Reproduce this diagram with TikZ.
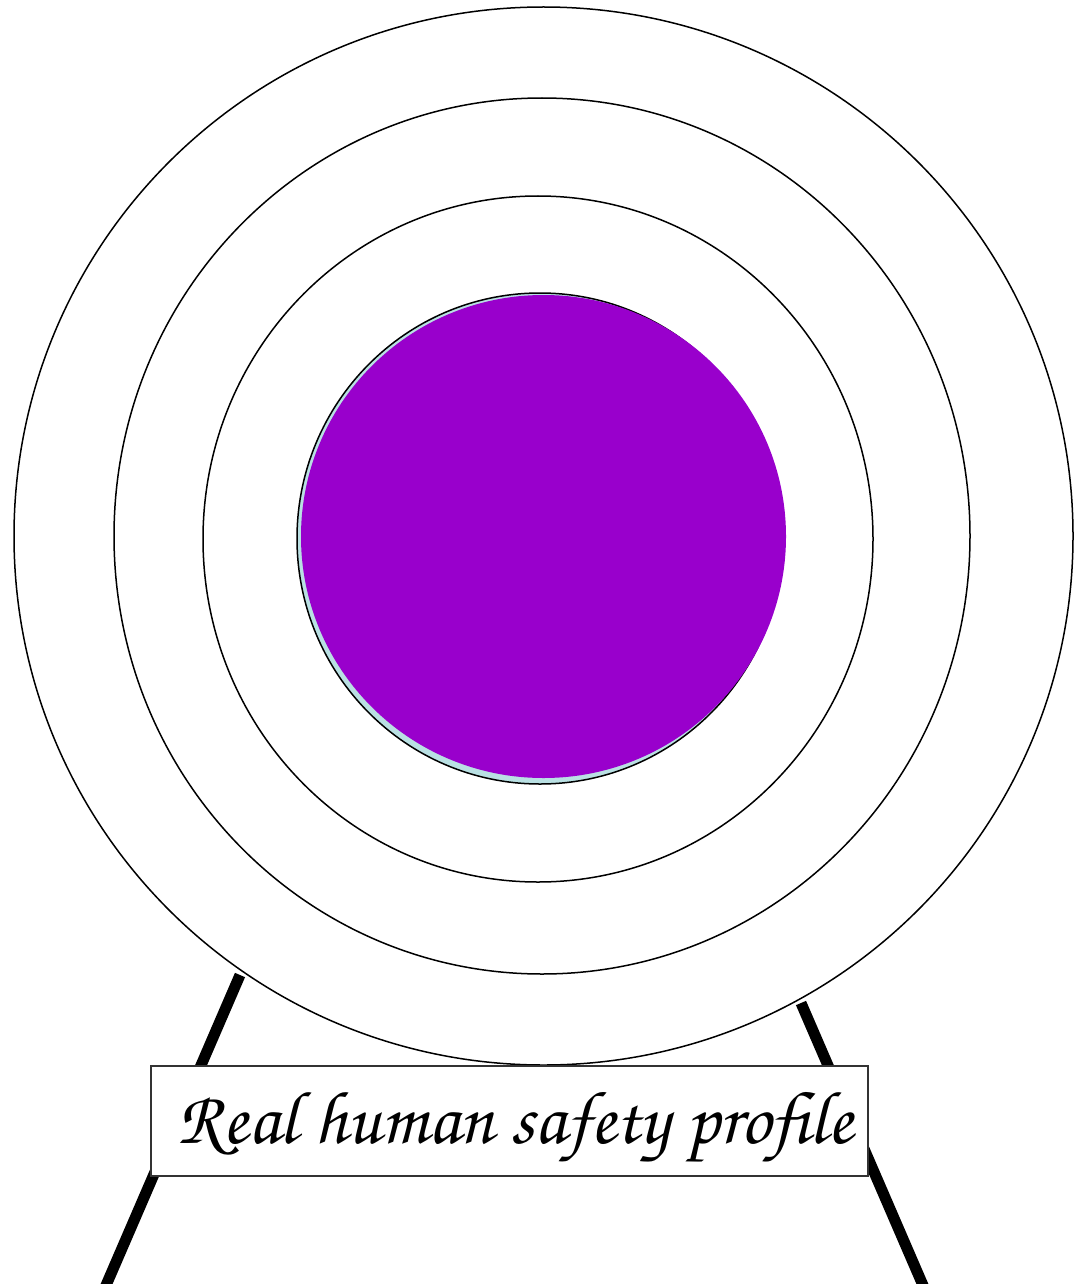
\documentclass[tikz,border=0pt]{standalone}
\usepackage{fontspec}
\newfontfamily\corsiva{TeX Gyre Chorus}
\definecolor{purp}{HTML}{9900CC}
\definecolor{paleblue}{HTML}{B9E0E3}
\begin{document}
\begin{tikzpicture}[x=1pt,y=-1pt,
  ring/.style={draw=black,line width=1.5pt},
  leg/.style={line width=11pt,line cap=butt},
  label/.style={draw=black!80,line width=1.5pt,fill=white,minimum width=717pt,minimum height=110pt,inner sep=0pt,font=\corsiva\fontsize{75}{80}\selectfont}]
\useasboundingbox (0,0) rectangle (1078,1284);
% legs
\draw[leg] (240,975) -- (104,1290);
\draw[leg] (801,1003) -- (925,1290);
% rings
\draw[ring] (543.5,536) ellipse [x radius=529.5,y radius=529];
\draw[ring] (542,536) ellipse [x radius=428,y radius=438];
\draw[ring] (538,539) ellipse [x radius=335,y radius=343];
\draw[ring,fill=paleblue] (540,538.5) ellipse [x radius=243,y radius=245.5];
\fill[purp] (543.5,536.5) ellipse [x radius=242.5,y radius=241.5];
% label
\node[label] (lbl) at (509.5,1121) {};
\node[font=\corsiva\fontsize{75}{80}\selectfont,inner sep=0pt,anchor=base] (txt) at (515,1143) {Real human safety profile};
\end{tikzpicture}
\end{document}
